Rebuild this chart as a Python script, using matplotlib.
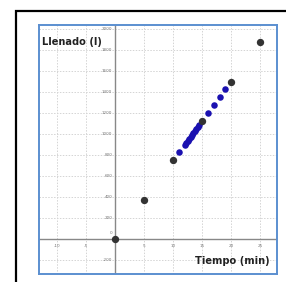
import numpy as np
import matplotlib.pyplot as plt
from matplotlib.patches import Rectangle

# data
black_t = [0, 5, 10, 15, 20, 25]
black_v = [0, 375, 750, 1125, 1500, 1875]
blue_t = [11, 12, 12.25, 12.5, 12.75, 13, 13.25, 13.5, 13.75, 14, 14.25, 14.5,
          16, 17, 18, 19]
blue_v = [825, 900, 919, 938, 956, 975, 994, 1013, 1031, 1050, 1069, 1088,
          1200, 1275, 1350, 1425]
x_ticks = [-10, -5, 0, 5, 10, 15, 20, 25]
y_ticks = [-200, 0, 200, 400, 600, 800, 1000, 1200, 1400, 1600, 1800, 2000]

fig = plt.figure(figsize=(2.86, 2.82), dpi=100)

# outer black frame (runs off the right/bottom edge)
fig.patches.append(Rectangle((16 / 286, -0.1), 1.2, 1 - 11 / 282 + 0.1,
                             transform=fig.transFigure, fill=False,
                             edgecolor="black", linewidth=1.6))

ax = fig.add_axes([39 / 286, 8 / 282, 238 / 286, 249 / 282])
ax.set_xlim(-13.1, 27.9)
ax.set_ylim(-333, 2038)

# dotted grid
for x in x_ticks:
    ax.axvline(x, color="#d4d4d4", lw=0.7, ls=(0, (1.5, 1.5)), zorder=0)
for y in y_ticks:
    ax.axhline(y, color="#d4d4d4", lw=0.7, ls=(0, (1.5, 1.5)), zorder=0)

# axes through the origin
ax.axhline(0, color="#888888", lw=1.0, zorder=1)
ax.axvline(0, color="#888888", lw=1.0, zorder=1)

for x in x_ticks:
    if x == 0:
        continue
    ax.text(x, -45, str(x), fontsize=3, color="#777777", ha="center", va="top")
for y in y_ticks:
    if y == 0:
        continue
    ax.text(-0.5, y, str(y), fontsize=3, color="#777777", ha="right", va="center")
ax.text(-0.5, 40, "0", fontsize=3, color="#777777", ha="right", va="bottom")

ax.scatter(blue_t, blue_v, s=22, color="#1a10b0", zorder=3, linewidths=0)
ax.scatter(black_t, black_v, s=28, color="#333333", zorder=4, linewidths=0)

ax.text(0.013, 0.932, "Llenado (l)", transform=ax.transAxes, fontsize=7.1,
        fontweight="bold", color="#222222", ha="left", va="center")
ax.text(0.968, 0.052, "Tiempo (min)", transform=ax.transAxes, fontsize=7.1,
        fontweight="bold", color="#222222", ha="right", va="center")

ax.set_xticks([])
ax.set_yticks([])
for s in ax.spines.values():
    s.set_color("#5b8fd0")
    s.set_linewidth(1.4)

fig.savefig("out.png", dpi=100)
